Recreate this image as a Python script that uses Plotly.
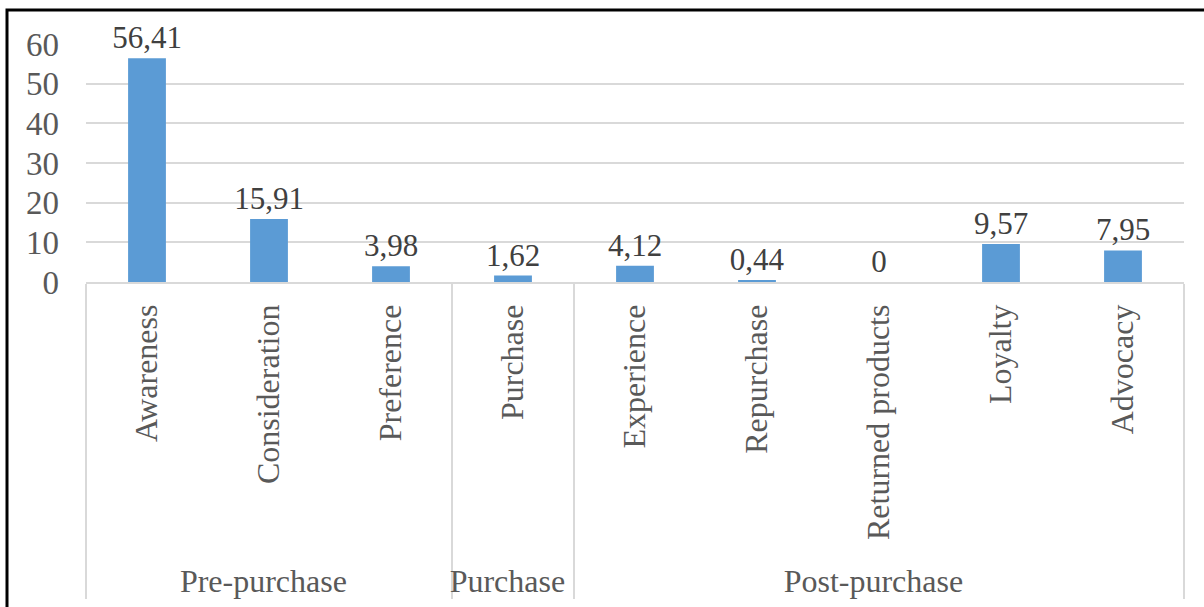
import plotly.graph_objects as go

stages = ["Pre-purchase", "Pre-purchase", "Pre-purchase", "Purchase",
          "Post-purchase", "Post-purchase", "Post-purchase", "Post-purchase", "Post-purchase"]
items = ["Awareness", "Consideration", "Preference", "Purchase", "Experience",
         "Repurchase", "Returned products", "Loyalty", "Advocacy"]
values = [56.41, 15.91, 3.98, 1.62, 4.12, 0.44, 0, 9.57, 7.95]
y_ticks = [0, 10, 20, 30, 40, 50, 60]

labels = [f"{v:g}".replace(".", ",") for v in values]

FONT = "Liberation Serif, Times New Roman, serif"

fig = go.Figure()
fig.add_trace(go.Bar(
    x=[stages, items],
    y=values,
    marker=dict(color="#5B9BD5", line=dict(width=0)),
    text=labels,
    textposition="outside",
    constraintext="none",
    textfont=dict(family=FONT, size=31, color="#404040"),
    cliponaxis=False,
))

fig.update_layout(
    width=1204, height=607,
    margin=dict(l=86, r=20, t=44, b=325),
    paper_bgcolor="white",
    plot_bgcolor="white",
    bargap=0.69,
    showlegend=False,
    font=dict(family=FONT, color="#595959", size=32),
    xaxis=dict(
        type="multicategory",
        tickangle=-90,
        ticks="",
        automargin=False,
        showline=True,
        linecolor="#D9D9D9",
        linewidth=1.5,
        showdividers=True,
        dividercolor="#D9D9D9",
        dividerwidth=1.5,
        ticklabelstandoff=8,
        tickfont=dict(family=FONT, size=32, color="#595959"),
        showgrid=False,
    ),
    yaxis=dict(
        range=[0, 60],
        tickvals=y_ticks,
        automargin=False,
        showgrid=True,
        gridcolor="#D9D9D9",
        gridwidth=1.5,
        showline=False,
        zeroline=False,
        ticks="",
        ticklabelstandoff=26,
        tickfont=dict(family=FONT, size=33, color="#595959"),
    ),
    shapes=[
        dict(type="rect", xref="paper", yref="paper",
             x0=-79 / 1098, x1=1.2, y0=-2.0, y1=1 + 34 / 238,
             line=dict(color="black", width=3), fillcolor="rgba(0,0,0,0)", layer="above"),
    ],
)

fig.write_html(
    "out.html",
    config={"displayModeBar": False},
    post_script="document.body.style.margin='0';document.body.style.overflow='hidden';",
)
